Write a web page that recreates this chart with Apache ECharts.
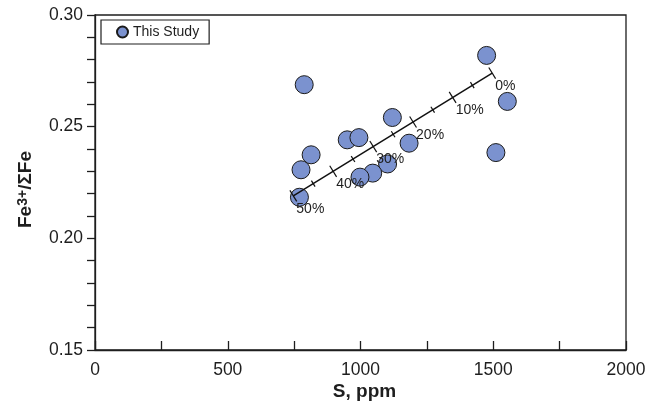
<!DOCTYPE html>
<html>
<head>
<meta charset="utf-8">
<script src="https://cdn.jsdelivr.net/npm/echarts@6/dist/echarts.min.js"></script>
<style>
  html, body { margin: 0; padding: 0; background: #fff; }
  #chart { width: 661px; height: 402px; }
</style>
</head>
<body>
<div id="chart"></div>
<script>
// measured points (This Study)
const sPpm = [1475, 788, 1553, 1120, 950, 994, 1183, 814, 776, 1510, 1102, 1046, 998, 770];
const fe3Ratio = [0.2819, 0.2688, 0.2613, 0.2541, 0.2441, 0.2451, 0.2426, 0.2374, 0.2307, 0.2384, 0.2333, 0.2292, 0.2274, 0.2184];

// mixing line ends (0% -> 50%)
const mixS = [1496, 747];
const mixFe = [0.274, 0.219];

// ticks along the mixing line
const tickPct = [0, 5, 10, 15, 20, 25, 30, 35, 40, 45, 50];
const tickS = [1496, 1421, 1347, 1272, 1198, 1123, 1048, 972, 897, 822, 747];
const tickFe = [0.2740, 0.2686, 0.2631, 0.2576, 0.2521, 0.2466, 0.2411, 0.2355, 0.2300, 0.2245, 0.2190];

const xLabelled = [0, 500, 1000, 1500, 2000];
const yLabelled = [0.15, 0.20, 0.25, 0.30];

const FONT = 'Liberation Sans, Arial, Helvetica, sans-serif';
const INK = '#1e1e1e';

const chart = echarts.init(document.getElementById('chart'));

const option = {
    animation: false,
    backgroundColor: '#fff',
    textStyle: { fontFamily: FONT, color: INK },
    grid: {
        left: 95, right: 35, top: 15, bottom: 52,
        outerBoundsMode: 'none',
        containLabel: false,
        show: true, borderColor: INK, borderWidth: 1.3
    },
    legend: {
        data: ['This Study'],
        left: 101, top: 20,
        padding: [5, 10, 5, 15],
        borderColor: INK, borderWidth: 1.2,
        icon: 'circle',
        itemWidth: 11, itemHeight: 11,
        textStyle: { fontSize: 14, color: INK, fontFamily: FONT }
    },
    xAxis: {
        type: 'value',
        min: 0, max: 2000, interval: 250,
        name: 'S, ppm',
        nameLocation: 'middle',
        nameGap: 32,
        nameMoveOverlap: false,
        nameTextStyle: { fontSize: 19, fontWeight: 'bold', color: INK, fontFamily: FONT, padding: [0, 0, 0, 8] },
        axisLine: { show: true, lineStyle: { color: INK, width: 1.3 } },
        axisTick: { show: true, inside: true, length: 9, lineStyle: { color: INK, width: 1.3 } },
        axisLabel: {
            fontSize: 17.5, color: INK, margin: 11, fontFamily: FONT,
            formatter: v => xLabelled.includes(v) ? String(v) : ''
        },
        splitLine: { show: false }
    },
    yAxis: {
        type: 'value',
        min: 0.15, max: 0.30, interval: 0.01,
        name: '{b|Fe}{sup|3+}{b|/ΣFe}',
        nameLocation: 'middle',
        nameGap: 60,
        nameMoveOverlap: false,
        nameTextStyle: {
            fontSize: 19, fontWeight: 'bold', color: INK, fontFamily: FONT,
            padding: [0, 14, 0, 0],
            rich: {
                b: { fontSize: 19, fontWeight: 'bold', color: INK, fontFamily: FONT },
                sup: { fontSize: 14, fontWeight: 'bold', color: INK, fontFamily: FONT, verticalAlign: 'top' }
            }
        },
        axisLine: { show: true, lineStyle: { color: INK, width: 1.3 } },
        axisTick: { show: true, inside: false, length: 8, lineStyle: { color: INK, width: 1.3 } },
        axisLabel: {
            fontSize: 17.5, color: INK, margin: 12, fontFamily: FONT,
            formatter: v => yLabelled.some(t => Math.abs(t - v) < 1e-6) ? v.toFixed(2) : ''
        },
        splitLine: { show: false }
    },
    series: [
        {
            name: 'This Study',
            type: 'scatter',
            symbol: 'circle',
            symbolSize: 18,
            z: 2,
            itemStyle: { color: '#7b92cf', borderColor: '#1a1a1a', borderWidth: 1, opacity: 1 },
            data: sPpm.map((s, i) => [s, fe3Ratio[i]])
        },
        {
            name: 'mixing',
            type: 'line',
            z: 3,
            symbol: 'none',
            silent: true,
            lineStyle: { color: '#111', width: 1.5 },
            data: mixS.map((s, i) => [s, mixFe[i]])
        },
        {
            name: 'mixTicks',
            type: 'custom',
            z: 4,
            silent: true,
            data: tickS.map((s, i) => [s, tickFe[i], tickPct[i]]),
            renderItem: function (params, api) {
                const p = api.coord([api.value(0), api.value(1)]);
                const a = api.coord([mixS[0], mixFe[0]]);
                const b = api.coord([mixS[1], mixFe[1]]);
                let dx = b[0] - a[0], dy = b[1] - a[1];
                const len = Math.sqrt(dx * dx + dy * dy);
                dx /= len; dy /= len;
                const nx = -dy, ny = dx;
                const pct = api.value(2);
                const major = pct % 10 === 0;
                const h = major ? 6.5 : 3.5;
                const children = [{
                    type: 'line',
                    shape: { x1: p[0] - nx * h, y1: p[1] - ny * h, x2: p[0] + nx * h, y2: p[1] + ny * h },
                    style: { stroke: '#111', lineWidth: 1.2 }
                }];
                if (major) {
                    children.push({
                        type: 'text',
                        x: p[0] + 3, y: p[1] + 6,
                        style: {
                            text: pct + '%',
                            fill: INK,
                            font: '14px ' + FONT,
                            align: 'left',
                            verticalAlign: 'top'
                        }
                    });
                }
                return { type: 'group', children: children };
            }
        }
    ]
};

chart.setOption(option);
</script>
</body>
</html>
